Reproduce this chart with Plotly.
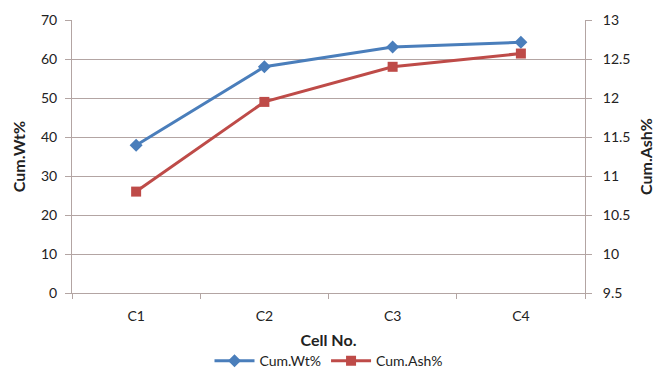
import plotly.graph_objects as go

cells = ["C1", "C2", "C3", "C4"]
cum_wt = [37.9, 58.0, 63.1, 64.3]
cum_ash = [10.80, 11.95, 12.40, 12.57]

font_family = "Lato, 'Open Sans', sans-serif"
grid_col = "#b3a5a3"
text_col = "#222222"

fig = go.Figure()
fig.add_trace(go.Scatter(
    x=cells, y=cum_wt, name="Cum.Wt%", mode="lines+markers",
    line=dict(color="#4a7ebb", width=3),
    marker=dict(symbol="diamond", size=10, color="#4a7ebb"),
))
fig.add_trace(go.Scatter(
    x=cells, y=cum_ash, name="Cum.Ash%", mode="lines+markers", yaxis="y2",
    line=dict(color="#be4b48", width=3),
    marker=dict(symbol="square", size=10, color="#be4b48"),
))

fig.update_layout(
    width=656, height=363,
    margin=dict(l=64, r=79, t=12, b=78, autoexpand=False),
    paper_bgcolor="white", plot_bgcolor="white",
    font=dict(family=font_family, size=13, color=text_col),
    showlegend=True,
    legend=dict(orientation="h", x=0.5, xanchor="center", y=-0.25, yanchor="middle",
                font=dict(size=14), bgcolor="rgba(0,0,0,0)", itemwidth=40),
    xaxis=dict(
        type="category", range=[-0.5, 3.5], automargin=False,
        showgrid=False, showline=True, linecolor=grid_col, linewidth=1,
        ticks="outside", tickson="boundaries", ticklen=5, tickcolor=grid_col,
        ticklabelstandoff=10,
        title=dict(text="<b>Cell No.</b>", standoff=12, font=dict(size=16)),
        tickfont=dict(size=14),
    ),
    yaxis=dict(
        range=[0, 70], dtick=10, automargin=False,
        showgrid=True, gridcolor=grid_col, gridwidth=1,
        showline=True, linecolor=grid_col, ticks="outside", ticklen=6, tickcolor=grid_col,
        ticklabelstandoff=5,
        zeroline=False,
        title=dict(text="<b>Cum.Wt%</b>", standoff=11, font=dict(size=16)),
        tickfont=dict(size=14),
    ),
    yaxis2=dict(
        range=[9.5, 13], dtick=0.5, overlaying="y", side="right", automargin=False,
        showgrid=False,
        showline=True, linecolor=grid_col, ticks="outside", ticklen=6, tickcolor=grid_col,
        ticklabelstandoff=8,
        zeroline=False,
        title=dict(text="<b>Cum.Ash%</b>", standoff=11, font=dict(size=16)),
        tickfont=dict(size=14),
    ),
)

fig.write_html("out.html")
